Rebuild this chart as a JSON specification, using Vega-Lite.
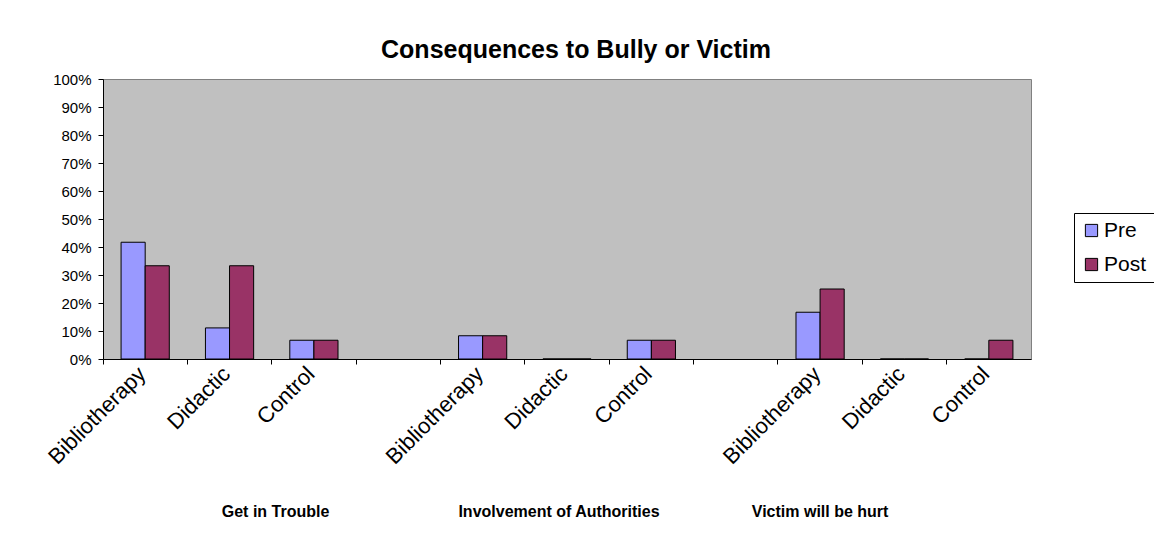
{
  "$schema": "https://vega.github.io/schema/vega-lite/v6.json",
  "width": 928,
  "height": 280,
  "padding": {"left": 103, "top": 79, "right": 123, "bottom": 187},
  "autosize": {"type": "none"},
  "background": "white",
  "config": {
    "view": {"stroke": "#808080", "strokeWidth": 1, "fill": "#C0C0C0"},
    "font": "Liberation Sans"
  },
  "title": {
    "text": "Consequences to Bully or Victim",
    "font": "Liberation Sans",
    "fontSize": 25,
    "fontWeight": "bold",
    "color": "#000000",
    "anchor": "middle",
    "frame": "group",
    "offset": 9,
    "dx": 9
  },
  "resolve": {"axis": {"x": "independent", "y": "independent"}},
  "datasets": {
    "survey": [
      {"slot": "Bibliotherapy", "phase": "Pre", "share": 0.417},
      {"slot": "Bibliotherapy", "phase": "Post", "share": 0.333},
      {"slot": "Didactic", "phase": "Pre", "share": 0.111},
      {"slot": "Didactic", "phase": "Post", "share": 0.333},
      {"slot": "Control", "phase": "Pre", "share": 0.067},
      {"slot": "Control", "phase": "Post", "share": 0.067},
      {"slot": "Bibliotherapy\u200b", "phase": "Pre", "share": 0.083},
      {"slot": "Bibliotherapy\u200b", "phase": "Post", "share": 0.083},
      {"slot": "Didactic\u200b", "phase": "Pre", "share": 0},
      {"slot": "Didactic\u200b", "phase": "Post", "share": 0},
      {"slot": "Control\u200b", "phase": "Pre", "share": 0.067},
      {"slot": "Control\u200b", "phase": "Post", "share": 0.067},
      {"slot": "Bibliotherapy\u200b\u200b", "phase": "Pre", "share": 0.167},
      {"slot": "Bibliotherapy\u200b\u200b", "phase": "Post", "share": 0.25},
      {"slot": "Didactic\u200b\u200b", "phase": "Pre", "share": 0},
      {"slot": "Didactic\u200b\u200b", "phase": "Post", "share": 0},
      {"slot": "Control\u200b\u200b", "phase": "Pre", "share": 0},
      {"slot": "Control\u200b\u200b", "phase": "Post", "share": 0.067}
    ]
  },
  "layer": [
    {
      "data": {"name": "survey"},
      "mark": {"type": "bar", "stroke": "#000000", "strokeWidth": 1},
      "encoding": {
        "x": {
          "field": "slot",
          "type": "nominal",
          "sort": null,
          "scale": {
            "domain": ["Bibliotherapy", "Didactic", "Control", "\u200b",
                       "Bibliotherapy\u200b", "Didactic\u200b", "Control\u200b", "\u200b\u200b",
                       "Bibliotherapy\u200b\u200b", "Didactic\u200b\u200b", "Control\u200b\u200b"],
            "paddingInner": 0,
            "paddingOuter": 0
          },
          "axis": {
            "orient": "bottom",
            "title": null,
            "bandPosition": 0,
            "labelOffset": -3,
            "tickSize": 5,
            "tickColor": "#000000",
            "domainColor": "#000000",
            "labelAngle": -45,
            "labelAlign": "right",
            "labelBaseline": "middle",
            "labelPadding": 6,
            "labelFontSize": 22,
            "labelColor": "#000000",
            "labelFont": "Liberation Sans"
          }
        },
        "xOffset": {
          "field": "phase",
          "type": "nominal",
          "sort": ["Pre", "Post"],
          "scale": {"domain": ["Pre", "Post"], "paddingInner": 0, "paddingOuter": 0.75}
        },
        "y": {
          "field": "share",
          "type": "quantitative",
          "scale": {"domain": [0, 1], "nice": false, "zero": true},
          "axis": {
            "orient": "left",
            "title": null,
            "grid": false,
            "tickCount": 10,
            "format": ".0%",
            "tickSize": 5,
            "tickColor": "#000000",
            "domainColor": "#000000",
            "labelPadding": 7,
            "labelFontSize": 15,
            "labelColor": "#000000",
            "labelFont": "Liberation Sans"
          }
        },
        "color": {
          "field": "phase",
          "type": "nominal",
          "sort": ["Pre", "Post"],
          "scale": {"domain": ["Pre", "Post"], "range": ["#9999FF", "#993366"]},
          "legend": {
            "title": null,
            "orient": "none",
            "legendX": 971,
            "legendY": 134,
            "direction": "vertical",
            "strokeColor": "#000000",
            "fillColor": "#FFFFFF",
            "padding": 7,
            "symbolType": "square",
            "symbolSize": 150,
            "symbolStrokeColor": "#000000",
            "symbolStrokeWidth": 1,
            "symbolOpacity": 1,
            "labelFontSize": 21,
            "labelFont": "Liberation Sans",
            "labelColor": "#000000",
            "rowPadding": 12,
            "labelOffset": 2
          }
        }
      }
    },
    {
      "data": {"values": [{"group": "Get in Trouble", "anchor": "Didactic"}]},
      "mark": {"type": "text", "font": "Liberation Sans", "fontSize": 16, "fontWeight": "bold", "color": "#000000", "align": "center", "baseline": "middle", "dx": 46, "dy": 153},
      "encoding": {
        "x": {"field": "anchor", "type": "nominal", "axis": null},
        "y": {"datum": 0, "type": "quantitative", "axis": null},
        "text": {"field": "group"}
      }
    },
    {
      "data": {"values": [{"group": "Involvement of Authorities", "anchor": "Didactic\u200b"}]},
      "mark": {"type": "text", "font": "Liberation Sans", "fontSize": 16, "fontWeight": "bold", "color": "#000000", "align": "center", "baseline": "middle", "dx": -8, "dy": 153},
      "encoding": {
        "x": {"field": "anchor", "type": "nominal", "axis": null},
        "y": {"datum": 0, "type": "quantitative", "axis": null},
        "text": {"field": "group"}
      }
    },
    {
      "data": {"values": [{"group": "Victim will be hurt", "anchor": "Bibliotherapy\u200b\u200b"}]},
      "mark": {"type": "text", "font": "Liberation Sans", "fontSize": 16, "fontWeight": "bold", "color": "#000000", "align": "center", "baseline": "middle", "dx": 0, "dy": 153},
      "encoding": {
        "x": {"field": "anchor", "type": "nominal", "axis": null},
        "y": {"datum": 0, "type": "quantitative", "axis": null},
        "text": {"field": "group"}
      }
    }
  ]
}
